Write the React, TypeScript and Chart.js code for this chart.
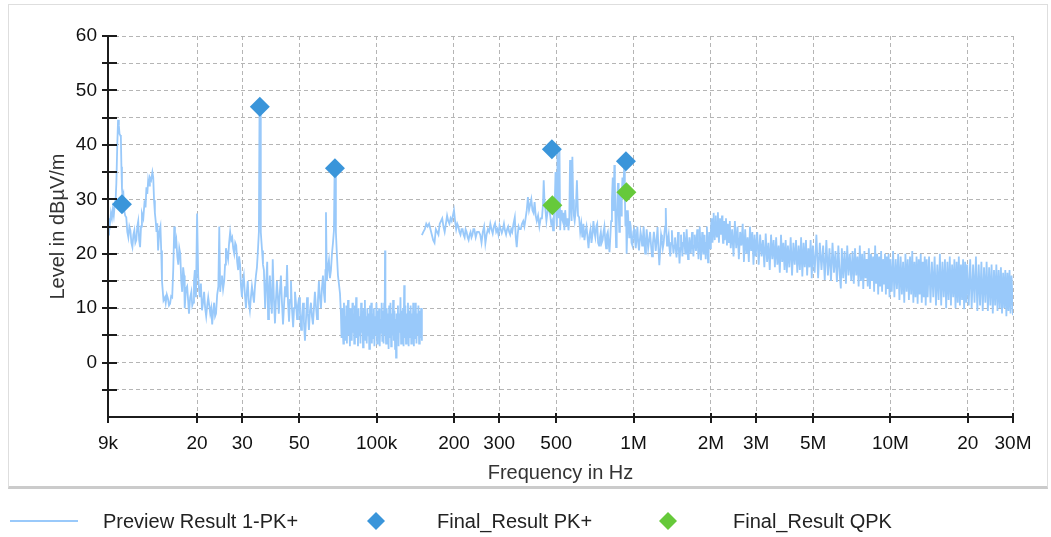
import React, { useEffect, useRef } from "react";
import { Chart, registerables } from "chart.js";

Chart.register(...registerables);

// Preview scan, 9 kHz – 150 kHz band: [frequency in kHz, level in dBµV/m]
const previewLowBand: [number, number][] = [
  [9.0, 23.5], [9.08, 26.5], [9.16, 25.5], [9.24, 27.5], [9.32, 26.5], [9.4, 28.2], [9.48, 27], [9.56, 29], [9.64, 30], [9.7, 33],
  [9.78, 40], [9.85, 44.6], [9.92, 43.5], [9.98, 42], [10.04, 41.8], [10.1, 41.5], [10.15, 36], [10.2, 32], [10.26, 30.5], [10.33, 31],
  [10.4, 28], [10.5, 27], [10.6, 26.7], [10.7, 24], [10.8, 23], [10.9, 25], [11.0, 24.3], [11.1, 22], [11.2, 21.2], [11.3, 23.5],
  [11.4, 24.3], [11.5, 22], [11.6, 22.5], [11.7, 25], [11.8, 26], [11.9, 22.5], [12.0, 21.2], [12.1, 25], [12.2, 27.4], [12.35, 26.5],
  [12.5, 29.8], [12.6, 28.5], [12.7, 32.2], [12.8, 31], [12.9, 33.5], [13.0, 32.5], [13.1, 34], [13.25, 33.5], [13.4, 35], [13.5, 34],
  [13.6, 29.8], [13.7, 27.5], [13.8, 26], [13.9, 24], [14.0, 25.6], [14.1, 20.6], [14.25, 24], [14.4, 25], [14.5, 20.6], [14.6, 15],
  [14.8, 11.4], [15.0, 12], [15.1, 11], [15.25, 12.5], [15.4, 11.8], [15.55, 10.5], [15.7, 10.8], [15.85, 12.2], [16.0, 12], [16.15, 17],
  [16.3, 25], [16.4, 21], [16.6, 22.5], [16.75, 19.5], [16.9, 18], [17.05, 21], [17.2, 20], [17.35, 15], [17.5, 13], [17.65, 17.5],
  [17.8, 16], [17.9, 10], [18.1, 13.5], [18.3, 14], [18.45, 11.5], [18.6, 9], [18.8, 12], [19.0, 13], [19.15, 10.5], [19.3, 11],
  [19.45, 15], [19.6, 17], [19.8, 12], [20.0, 27.4], [20.2, 16], [20.35, 13.5], [20.5, 12], [20.7, 14.5], [20.9, 9.6], [21.1, 11],
  [21.3, 13], [21.5, 10], [21.7, 8.5], [21.9, 10.5], [22.1, 12], [22.3, 10.5], [22.5, 9], [22.7, 10], [22.9, 7], [23.1, 9.5],
  [23.3, 11], [23.5, 8.5], [23.7, 9], [23.95, 12.5], [24.2, 14], [24.4, 25], [24.6, 13], [24.8, 15], [25.0, 16], [25.25, 13.5],
  [25.5, 15], [25.7, 18], [25.9, 21], [26.15, 20], [26.4, 19], [26.65, 22], [26.9, 24], [27.15, 22.5], [27.4, 23], [27.65, 21],
  [27.9, 20], [28.15, 22], [28.4, 21.5], [28.65, 18.5], [28.9, 17], [29.15, 19.5], [29.4, 18], [29.65, 14], [29.9, 12], [30.15, 15],
  [30.4, 16], [30.7, 12.5], [31.0, 10], [31.25, 13], [31.5, 15], [31.8, 11], [32.1, 9.6], [32.4, 12], [32.7, 14], [33.0, 12.5],
  [33.3, 11], [33.6, 14], [33.9, 16], [34.2, 17.5], [34.5, 20.6], [34.8, 24], [35.0, 46.6], [35.2, 46.6], [35.4, 24], [35.8, 20.6],
  [36.1, 18], [36.4, 17], [36.8, 10], [37.1, 14], [37.5, 18.5], [37.8, 8], [38.1, 12.5], [38.4, 16], [38.8, 11], [39.1, 9],
  [39.4, 19], [39.8, 12], [40.2, 7.2], [40.5, 11], [40.9, 15], [41.2, 12.5], [41.6, 9], [42.0, 13], [42.4, 16], [42.8, 11],
  [43.2, 7], [43.6, 10.5], [44.0, 14], [44.4, 12], [44.8, 17.9], [45.2, 11], [45.6, 7.5], [46.0, 11.5], [46.4, 15], [46.8, 10],
  [47.3, 6.5], [47.7, 10], [48.1, 13], [48.5, 11], [49.0, 8], [49.4, 10.5], [49.9, 12], [50.3, 9], [50.8, 6], [51.2, 8.5],
  [51.7, 11], [52.1, 7.5], [52.6, 4], [53.1, 8], [53.6, 12], [54.0, 9], [54.5, 6], [55.0, 9.5], [55.5, 11], [56.0, 8.5],
  [56.5, 7], [57.0, 10], [57.5, 13], [58.0, 10.5], [58.6, 8], [59.1, 11.5], [59.6, 15], [60.1, 12], [60.7, 10], [61.2, 13.5],
  [61.8, 16], [62.3, 13], [62.9, 11], [63.2, 17], [63.5, 27.6], [64.0, 15], [64.6, 17.5], [65.2, 18.8], [65.8, 15.5], [66.4, 17],
  [67.0, 20], [67.6, 22], [68.2, 24.3], [68.6, 35.3], [69.0, 35.3], [69.4, 24], [70.0, 20], [70.7, 16], [71.3, 14.5], [72.0, 12.7],
  [72.6, 9], [73.0, 4.5], [73.4, 10], [73.8, 6], [74.2, 3.5], [74.6, 11], [75.0, 5], [75.4, 8.5], [75.8, 4], [76.2, 10.5],
  [76.6, 3.5], [77.0, 9], [77.4, 11.5], [77.8, 5], [78.2, 8], [78.7, 3], [79.1, 10], [79.6, 6], [80.0, 4], [80.5, 11],
  [80.9, 5.5], [81.4, 9], [81.8, 3.5], [82.3, 10.5], [82.7, 6], [83.2, 12], [83.6, 4.5], [84.1, 9], [84.6, 3], [85.0, 10],
  [85.5, 5], [86.0, 8.5], [86.5, 3.5], [87.0, 11], [87.5, 5.5], [88.0, 9.5], [88.5, 2.8], [89.0, 10], [89.5, 6], [90.0, 11.5],
  [90.5, 4], [91.0, 8.5], [91.5, 3.5], [92.0, 10], [92.6, 5], [93.1, 9], [93.6, 2.5], [94.2, 10.5], [94.7, 5.5], [95.3, 11],
  [95.8, 3.5], [96.4, 9], [96.9, 4.5], [97.5, 10], [98.0, 3], [98.6, 8.5], [99.2, 5], [99.8, 11], [100.4, 3.5], [101.0, 9.5],
  [101.6, 4.5], [102.2, 10], [102.8, 3], [103.4, 8], [104.0, 5.5], [104.6, 11], [105.2, 4], [105.8, 9.5], [106.4, 3.5], [107.0, 11],
  [107.4, 5], [107.8, 20.6], [108.2, 8], [108.8, 3.5], [109.4, 10], [110.0, 5.5], [110.6, 9], [111.3, 2.5], [111.9, 10.5], [112.6, 4.5],
  [113.2, 11], [113.9, 3], [114.5, 9], [115.2, 5], [115.9, 11.5], [116.6, 4], [117.3, 9.5], [118.0, 2.5], [118.6, 8], [119.0, 0.9],
  [119.6, 9], [120.3, 4.5], [121.0, 10.5], [121.7, 3], [122.4, 9], [123.1, 5.5], [123.8, 12], [124.5, 3.5], [125.2, 9.5], [126.0, 4.5],
  [126.7, 10], [127.3, 3], [128.0, 14.2], [128.6, 4.5], [129.4, 10.5], [130.1, 3.5], [130.9, 9], [131.6, 5], [132.4, 11], [133.2, 3],
  [134.0, 9.5], [134.8, 4.5], [135.6, 10.5], [136.4, 3.5], [137.2, 9], [138.0, 5], [138.8, 11], [139.6, 3], [140.4, 9.5], [141.2, 4.5],
  [142.0, 11], [142.9, 3.5], [143.7, 9], [144.6, 5], [145.4, 10.5], [146.3, 3.5], [147.2, 9.5], [148.1, 4.5], [149.0, 10], [150.0, 4],
];

// Preview scan, 150 kHz – 2.4 MHz: [frequency in kHz, level in dBµV/m]
const previewMidBand: [number, number][] = [
  [150, 23.4], [152, 24], [154, 24.5], [156, 25.5], [158, 25], [160, 25.5], [162, 24.5], [164, 23.5], [166, 22.5], [168, 22],
  [170, 24.5], [172, 24], [174, 23.5], [176, 25.5], [178, 26], [180, 26.5], [182, 25], [184, 24], [186, 25.5], [188, 27],
  [190, 26], [192, 25.5], [194, 26.5], [196, 26], [198, 27], [200, 28], [202, 26], [204, 24.5], [206, 25.5], [208, 25],
  [210, 24], [212, 23.5], [214, 24.5], [216, 24.5], [218, 23.5], [220, 23], [222, 24.5], [224, 24], [226, 23], [228, 22.5],
  [230, 23.5], [232, 24], [234, 23], [236, 23.5], [238, 24.5], [240, 24.5], [243, 23], [246, 24], [250, 24], [253, 23.5],
  [256, 22], [259, 24], [262, 25], [265, 21.9], [268, 23.5], [271, 24.5], [274, 24], [277, 25.5], [280, 24.5], [283, 23.7],
  [286, 25], [289, 25.6], [292, 24], [295, 24.5], [298, 23.5], [301, 25.2], [304, 24.5], [307, 23.8], [310, 24.5], [313, 25.5],
  [316, 24.2], [319, 23.5], [322, 24.5], [325, 25], [328, 24], [331, 23.5], [334, 24.5], [337, 24], [341, 25.5], [345, 26.7],
  [348, 23], [351, 21.2], [354, 23.5], [357, 25], [360, 24.5], [364, 24.5], [368, 25.5], [372, 26], [376, 25], [380, 26.5],
  [384, 28], [388, 30.4], [392, 28], [396, 29], [400, 30], [404, 28], [408, 27.5], [412, 29.5], [416, 27], [420, 26],
  [425, 27], [430, 25], [435, 26.5], [440, 26.5], [444, 29], [447, 33.5], [450, 30], [454, 28], [458, 26], [462, 27.5],
  [466, 29], [470, 28], [474, 27], [478, 25.5], [482, 26], [486, 24.3], [490, 27], [494, 30], [497, 35], [500, 27],
  [503, 25], [506, 38.5], [509, 31], [512, 26.5], [515, 39], [518, 24.3], [522, 28], [526, 26.5], [530, 26], [534, 27.5],
  [538, 24.3], [542, 28], [546, 26], [550, 25], [554, 26.5], [558, 24.3], [562, 26], [566, 37.2], [570, 29], [574, 26],
  [578, 37.8], [582, 30], [586, 27], [590, 26], [596, 28], [602, 33.5], [608, 27], [614, 26.7], [620, 24], [626, 25.5],
  [632, 23], [638, 25.5], [644, 22.5], [650, 24], [656, 25], [662, 23], [668, 21], [674, 23.5], [680, 24.5], [686, 22],
  [692, 23.5], [698, 26], [704, 24], [710, 23], [716, 25], [722, 25.5], [728, 22], [734, 21.5], [740, 23], [746, 24],
  [752, 22], [758, 22.5], [764, 24], [770, 25], [776, 22.5], [782, 21], [788, 23.5], [794, 24], [800, 22], [806, 20.3],
  [812, 23], [818, 26], [824, 30], [830, 34], [834, 28], [838, 30], [842, 36.3], [846, 33], [850, 27], [855, 21.2],
  [860, 25], [865, 30], [870, 33], [875, 28], [880, 24], [885, 29], [890, 31], [895, 27], [900, 30], [905, 34],
  [910, 30.5], [915, 33], [920, 36.8], [925, 31], [930, 25], [935, 28], [940, 20], [945, 24], [950, 28], [956, 25.5],
  [962, 23], [968, 26], [975, 25], [982, 22], [990, 21.5], [998, 24], [1005, 24.5], [1013, 22.5], [1020, 21], [1028, 23],
  [1035, 25], [1043, 22], [1050, 20.6], [1058, 22.5], [1065, 24], [1073, 23], [1080, 21.5], [1088, 23], [1095, 25], [1103, 22],
  [1110, 20], [1118, 22.5], [1125, 24.5], [1133, 22.5], [1140, 21], [1150, 22.5], [1160, 24], [1170, 21.5], [1180, 19.5], [1190, 22],
  [1200, 24], [1210, 22.5], [1220, 20.5], [1230, 22.5], [1240, 24.9], [1250, 21], [1260, 17.9], [1270, 20.5], [1280, 23.5], [1290, 22.5],
  [1300, 21], [1310, 22], [1320, 24], [1328, 25], [1335, 28.4], [1342, 24], [1350, 21.5], [1360, 22.5], [1370, 23.5], [1380, 21],
  [1390, 19.5], [1400, 22], [1410, 24.3], [1420, 22], [1430, 20], [1440, 21.5], [1450, 23], [1460, 21], [1470, 19.3], [1480, 21.5],
  [1490, 24], [1500, 21], [1510, 18.2], [1520, 21], [1530, 23.5], [1540, 21.5], [1550, 19.5], [1560, 22], [1570, 24], [1580, 22],
  [1590, 20], [1600, 22.5], [1610, 24.5], [1620, 21.5], [1630, 19], [1640, 21], [1650, 23], [1660, 21.5], [1670, 20], [1680, 22],
  [1690, 24], [1700, 21.5], [1710, 19.5], [1720, 21.5], [1730, 23.5], [1740, 22], [1750, 20.5], [1760, 22.5], [1770, 24.5], [1780, 21.5],
  [1790, 19], [1800, 22], [1810, 25], [1820, 21.5], [1830, 18.8], [1840, 21], [1850, 24], [1860, 22], [1870, 20], [1880, 22],
  [1890, 23.5], [1900, 21], [1910, 19], [1920, 22], [1930, 25], [1940, 21.5], [1950, 18.4], [1960, 21], [1970, 24], [1980, 22],
  [1990, 21], [2000, 24], [2010, 26.5], [2020, 24], [2030, 22], [2040, 25], [2050, 27.5], [2060, 25], [2070, 22.5], [2080, 25],
  [2090, 27], [2100, 25], [2110, 23], [2120, 25.5], [2130, 27.6], [2140, 24.5], [2150, 22], [2160, 24.5], [2170, 26.5], [2180, 25],
  [2190, 23.5], [2200, 25], [2210, 27], [2220, 24], [2230, 22], [2240, 24], [2250, 26], [2260, 24], [2270, 22.5], [2280, 24.5],
  [2290, 26.5], [2300, 24], [2310, 21.5], [2320, 23.5], [2330, 25.5], [2340, 23.5], [2350, 22], [2360, 24], [2370, 26], [2380, 23],
  [2390, 21],
];

// Preview scan, 2.4 MHz – 30 MHz: [frequency in kHz, level in dBµV/m]
const previewHighBand: [number, number][] = [
  [2420, 24.5], [2450, 19.5], [2480, 26], [2510, 21], [2540, 25], [2570, 19], [2600, 24], [2630, 21.5], [2660, 25.5], [2690, 18.5],
  [2720, 24.5], [2750, 20], [2780, 23], [2810, 18.5], [2840, 25], [2870, 20.5], [2900, 24], [2930, 18], [2960, 23.5], [2990, 19.5],
  [3030, 24], [3070, 18], [3110, 23.5], [3150, 19.5], [3190, 22.5], [3230, 17.5], [3270, 23.7], [3310, 18.5], [3350, 22], [3390, 17],
  [3430, 23.5], [3470, 19], [3510, 22.5], [3550, 17.5], [3590, 23], [3630, 18], [3670, 21.5], [3710, 16.5], [3750, 23.5], [3790, 18.5],
  [3830, 22], [3870, 17], [3910, 22.5], [3950, 16.5], [3990, 21.5], [4040, 17.5], [4090, 23], [4140, 16], [4190, 22], [4240, 18],
  [4290, 22.5], [4340, 16.5], [4390, 21.5], [4440, 17], [4490, 23], [4540, 15.8], [4590, 22], [4640, 17.5], [4690, 22.5], [4740, 16],
  [4790, 21], [4840, 17.5], [4890, 22.5], [4940, 15.5], [4990, 21.5], [5070, 16.5], [5150, 23.5], [5230, 15.5], [5310, 22], [5390, 17],
  [5470, 21.5], [5550, 15.2], [5630, 22.5], [5710, 16], [5790, 21], [5870, 15], [5950, 22], [6030, 16.5], [6110, 20.5], [6190, 14.8],
  [6270, 21.5], [6350, 16], [6410, 13.6], [6470, 21], [6550, 15.5], [6630, 20.5], [6710, 14.5], [6790, 21.5], [6870, 16], [6950, 20],
  [7040, 15], [7120, 20.5], [7200, 14.5], [7280, 21], [7360, 16], [7440, 19.5], [7520, 14], [7600, 21.5], [7680, 15], [7760, 20],
  [7840, 13.5], [7920, 20.5], [8000, 15.5], [8080, 19], [8160, 14], [8240, 21], [8320, 13.5], [8400, 20], [8480, 15], [8560, 19.5],
  [8640, 13], [8720, 21.5], [8800, 14.5], [8880, 20], [8960, 12.5], [9040, 19.5], [9120, 14], [9200, 20.5], [9280, 13], [9360, 19],
  [9440, 14.5], [9520, 20], [9600, 12.5], [9680, 19.5], [9760, 13.5], [9840, 20], [9920, 12], [10000, 19], [10120, 13], [10240, 20.5],
  [10360, 12], [10480, 19], [10600, 13.5], [10720, 20], [10840, 11.5], [10960, 19.5], [11080, 12.5], [11200, 18.5], [11320, 11], [11440, 20],
  [11560, 13], [11680, 19], [11800, 11.5], [11920, 19.5], [12040, 12.5], [12160, 20.5], [12280, 11], [12400, 18.5], [12520, 12], [12640, 19.5],
  [12760, 10.8], [12880, 19], [13000, 12.5], [13120, 20], [13240, 11], [13360, 18.5], [13480, 12], [13600, 19.5], [13720, 10.5], [13840, 19],
  [13960, 12], [14140, 19.5], [14320, 11], [14500, 18.5], [14680, 12], [14860, 19.5], [15040, 10.5], [15220, 18], [15400, 11.5], [15580, 20],
  [15760, 10.5], [15940, 18.5], [16120, 12], [16300, 19], [16480, 10], [16660, 18.5], [16840, 11.5], [17020, 19.5], [17200, 10.5], [17380, 18],
  [17560, 12], [17740, 19], [17920, 10], [18100, 18.5], [18280, 11], [18460, 19.5], [18640, 10.5], [18820, 18], [19000, 11.5], [19180, 19],
  [19360, 9.8], [19540, 18.5], [19720, 11], [19900, 18], [20170, 10.5], [20440, 19], [20710, 10], [20980, 18], [21250, 11], [21520, 19.5],
  [21790, 9.5], [22060, 18], [22330, 10.5], [22600, 18.5], [22870, 9.5], [23140, 17.5], [23410, 11], [23680, 18.5], [23950, 9.5], [24220, 17.5],
  [24490, 10.5], [24760, 18], [25030, 9], [25300, 17], [25570, 10.5], [25840, 18], [26110, 9.5], [26380, 17], [26650, 10], [26920, 17.5],
  [27190, 9], [27460, 16.5], [27730, 10], [28000, 17], [28270, 8.5], [28540, 16.5], [28810, 9.5], [29080, 17], [29350, 9], [29620, 16],
  [30000, 8.7],
];

// Final measurements
const finalPeakFreqKHz = [10.2, 35.1, 68.8, 481, 934];
const finalPeakLevel = [29.1, 47.0, 35.7, 39.2, 37.0];
const finalQpkFreqKHz = [483, 938];
const finalQpkLevel = [28.9, 31.3];

// Frequency axis ticks (kHz) and their printed labels
const freqTicksKHz = [9, 20, 30, 50, 100, 200, 300, 500, 1000, 2000, 3000, 5000, 10000, 20000, 30000];
const freqTickLabels = ["9k", "20", "30", "50", "100k", "200", "300", "500", "1M", "2M", "3M", "5M", "10M", "20", "30M"];

const seriesNames = ["Preview Result 1-PK+", "Final_Result PK+", "Final_Result QPK"];

const LINE_COLOR = "#99c9fa";
const PEAK_COLOR = "#3a95da";
const QPK_COLOR = "#66c93a";
const FONT = '"Liberation Sans", Arial, sans-serif';

// Solid axis lines with tick marks that cross the axis
const axisFramePlugin = {
  id: "axisFrame",
  afterDatasetsDraw(chart: any) {
    const { ctx, chartArea, scales } = chart;
    const { left, right, top, bottom } = chartArea;
    const xs = scales.x;
    const ys = scales.y;
    ctx.save();
    ctx.strokeStyle = "#1c1c1c";
    ctx.lineWidth = 2;
    ctx.beginPath();
    ctx.moveTo(left, top);
    ctx.lineTo(left, bottom + 1);
    ctx.moveTo(left - 1, bottom);
    ctx.lineTo(right + 1, bottom);
    for (const t of ys.ticks) {
      if (t.value <= ys.min) continue;
      const py = Math.round(ys.getPixelForValue(t.value));
      ctx.moveTo(left - 6, py);
      ctx.lineTo(left + 9, py);
    }
    for (const t of xs.ticks) {
      const px = Math.round(xs.getPixelForValue(t.value));
      ctx.moveTo(px, bottom - 4);
      ctx.lineTo(px, bottom + 6);
    }
    ctx.stroke();
    ctx.restore();
  },
};

function Diamond({ color, cx, cy }: { color: string; cx: number; cy: number }) {
  return (
    <svg width={20} height={20} style={{ position: "absolute", left: cx - 10, top: cy - 10 }}>
      <polygon points="10,1 19,10 10,19 1,10" fill={color} />
    </svg>
  );
}

export default function App() {
  const canvasRef = useRef<HTMLCanvasElement | null>(null);

  useEffect(() => {
    const canvas = canvasRef.current;
    if (!canvas) return;

    const toPoints = (band: [number, number][]) => band.map(([f, l]) => ({ x: f, y: l as number | null }));
    const previewData = [
      ...toPoints(previewLowBand),
      { x: 150, y: null },
      ...toPoints(previewMidBand),
      ...toPoints(previewHighBand),
    ];
    const peakData = finalPeakFreqKHz.map((f, i) => ({ x: f, y: finalPeakLevel[i] }));
    const qpkData = finalQpkFreqKHz.map((f, i) => ({ x: f, y: finalQpkLevel[i] }));

    const chart = new Chart(canvas, {
      type: "scatter",
      data: {
        datasets: [
          {
            label: seriesNames[1],
            data: peakData,
            pointStyle: "rectRot",
            pointRadius: 10,
            pointBackgroundColor: PEAK_COLOR,
            pointBorderWidth: 0,
            order: 1,
          },
          {
            label: seriesNames[2],
            data: qpkData,
            pointStyle: "rectRot",
            pointRadius: 10,
            pointBackgroundColor: QPK_COLOR,
            pointBorderWidth: 0,
            order: 2,
          },
          {
            label: seriesNames[0],
            data: previewData as any,
            showLine: true,
            spanGaps: false,
            borderColor: LINE_COLOR,
            borderWidth: 1.8,
            pointRadius: 0,
            order: 3,
          },
        ],
      },
      options: {
        animation: false,
        responsive: false,
        events: [],
        layout: { padding: { top: 36, right: 38, bottom: 0, left: 0 } },
        plugins: {
          legend: { display: false },
          tooltip: { enabled: false },
        },
        scales: {
          x: {
            type: "logarithmic",
            min: 9,
            max: 30000,
            afterBuildTicks: (s: any) => {
              s.ticks = freqTicksKHz.map((v) => ({ value: v }));
            },
            afterFit: (s: any) => {
              s.height = 120;
            },
            ticks: {
              autoSkip: false,
              maxRotation: 0,
              padding: 15,
              color: "#111",
              font: { family: FONT, size: 19 },
              callback: (v: any) => {
                const i = freqTicksKHz.indexOf(Number(v));
                return i >= 0 ? freqTickLabels[i] : "";
              },
            },
            grid: { color: "#b5b5b5", lineWidth: 1, drawTicks: false },
            border: { display: false, dash: [4, 3] },
            title: {
              display: true,
              text: "Frequency in Hz",
              color: "#333",
              font: { family: FONT, size: 20 },
              padding: { top: 0, bottom: 52 },
            },
          },
          y: {
            min: -10,
            max: 60,
            afterFit: (s: any) => {
              s.width = 108;
            },
            ticks: {
              stepSize: 5,
              padding: 11,
              color: "#111",
              font: { family: FONT, size: 19 },
              callback: (v: any) => (Number(v) % 10 === 0 && Number(v) > -10 ? String(v) : ""),
            },
            grid: { color: "#b5b5b5", lineWidth: 1, drawTicks: false },
            border: { display: false, dash: [4, 3] },
            title: {
              display: true,
              text: "Level in dBµV/m",
              color: "#333",
              font: { family: FONT, size: 20 },
              padding: { top: 46, bottom: 0 },
            },
          },
        },
      },
      plugins: [axisFramePlugin],
    } as any);

    return () => chart.destroy();
  }, []);

  const legendText: React.CSSProperties = {
    position: "absolute",
    top: 510,
    fontFamily: FONT,
    fontSize: 20,
    lineHeight: "23px",
    color: "#222",
    whiteSpace: "nowrap",
  };

  return (
    <div style={{ position: "absolute", left: 0, top: 0, width: 1051, height: 537, background: "#fff" }}>
      <div
        style={{
          position: "absolute",
          left: 8,
          top: 4,
          width: 1040,
          height: 485,
          boxSizing: "border-box",
          border: "1px solid #dedede",
          borderBottom: "3px solid #cbcbcb",
        }}
      />
      <canvas
        ref={canvasRef}
        width={1051}
        height={537}
        style={{ position: "absolute", left: 0, top: 0, width: 1051, height: 537 }}
      />
      <div style={{ position: "absolute", left: 10, top: 520, width: 68, height: 2, background: LINE_COLOR }} />
      <div style={{ ...legendText, left: 103 }}>{seriesNames[0]}</div>
      <Diamond color={PEAK_COLOR} cx={376} cy={521} />
      <div style={{ ...legendText, left: 437 }}>{seriesNames[1]}</div>
      <Diamond color={QPK_COLOR} cx={668} cy={521} />
      <div style={{ ...legendText, left: 733 }}>{seriesNames[2]}</div>
    </div>
  );
}
